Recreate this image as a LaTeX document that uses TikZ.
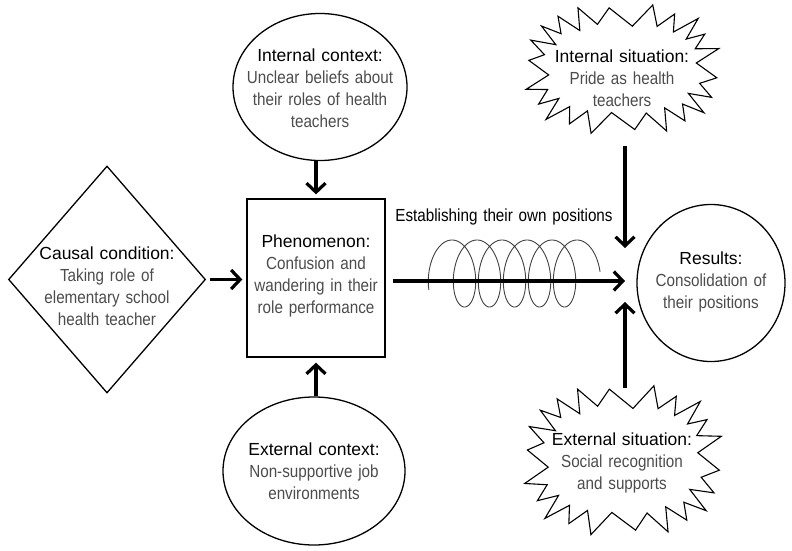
\documentclass[tikz,border=0pt]{standalone}
\usepackage{fontspec}
\setmainfont[FakeStretch=0.87]{Liberation Sans}
\newfontfamily\headfont{Liberation Sans}
\usepackage{tikz}
\usetikzlibrary{shapes.geometric,arrows.meta}
\definecolor{bodygray}{gray}{0.3}

% jagged outline: centre x, centre y, half width, half height, point depth
\newcommand{\burst}[5]{%
    \draw[outline, line width=1.1pt] plot[domain=0:43, samples=44, variable=\k]
        ({#1 + (#3 - #5*mod(\k,2))*(1+0.04*sin(\k*97))*sign(cos((\k+0.5)*360/44))*pow(abs(cos((\k+0.5)*360/44)),0.75)},
         {#2 + (#4 - #5*mod(\k,2))*(1+0.04*sin(\k*97))*sign(sin((\k+0.5)*360/44))*pow(abs(sin((\k+0.5)*360/44)),0.75)}) -- cycle;}

\begin{document}
\begin{tikzpicture}[x=1pt,y=-1pt,
    outline/.style={draw, line width=1.3pt, inner sep=0pt},
    txt/.style={align=center, text width=170pt, font=\fontsize{17.5}{22}\selectfont},
    arr/.style={line width=3.2pt, -{Straight Barb[length=9pt,width=19pt]}}]
    \useasboundingbox (0,0) rectangle (792,551);

    % Draw the shapes
    \node[outline, diamond, minimum width=197pt, minimum height=227pt] (C) at (107,279.5) {};
    \node[outline, rectangle, minimum width=138pt, minimum height=158pt] (P) at (316,278) {};
    \node[outline, ellipse, minimum width=174pt, minimum height=147pt] (IC) at (320,87) {};
    \node[outline, ellipse, minimum width=182pt, minimum height=148pt] (EC) at (314,471) {};
    \node[outline, ellipse, minimum width=148pt, minimum height=157pt] (R) at (711,283) {};
    \burst{622}{69}{95}{63}{19}
    \burst{622.5}{460}{97}{73}{20}

    % Texts
    \node[txt] (Ct) at (107,286) {{\headfont Causal condition:}\\ \color{bodygray}Taking role of\\ elementary school\\ health teacher};
    \node[txt] (Pt) at (316,276) {{\headfont Phenomenon:}\\ \color{bodygray}Confusion and\\ wandering in their\\ role performance};
    \node[txt] (ICt) at (320,88) {{\headfont Internal context:}\\ \color{bodygray}Unclear beliefs about\\ their roles of health\\ teachers};
    \node[txt] (ECt) at (314,471) {{\headfont External context:}\\ \color{bodygray}Non-supportive job\\ environments};
    \node[txt] (Rt) at (711,282) {{\headfont Results:}\\ \color{bodygray}Consolidation of\\ their positions};
    \node[txt] (IS) at (622,78) {{\headfont Internal situation:}\\ \color{bodygray}Pride as health\\ teachers};
    \node[txt] (ES) at (622,463) {{\headfont External situation:}\\ \color{bodygray}Social recognition\\ and supports};
    \node[txt, text width=230pt] (L) at (504,217) {Establishing their own positions};

    % Draw the coil
    \draw[black!75, line width=0.9pt] plot[domain=4.2:39.22, samples=500, variable=\t]
        ({427 + 3.98*\t + 17*sin(\t r)}, {273.5 - 33.5*cos(\t r)});

    % Draw the arrows
    \coordinate (H) at (625,281);
    \coordinate (ISfoot) at (625,146);
    \coordinate (EStop) at (625,388);
    \draw[arr, shorten <=4pt, shorten >=4pt] (C.east) -- (C.east -| P.west);
    \draw[arr, shorten >=4pt] (P.north |- IC.south) -- (P.north);
    \draw[arr, shorten >=5pt] (P.south |- EC.north) -- (P.south);
    \draw[arr, shorten <=7pt] (P.east |- H) -- (H);
    \draw[arr, shorten >=33pt] (ISfoot) -- (H);
    \draw[arr, shorten >=21pt] (EStop) -- (H);
\end{tikzpicture}
\end{document}
